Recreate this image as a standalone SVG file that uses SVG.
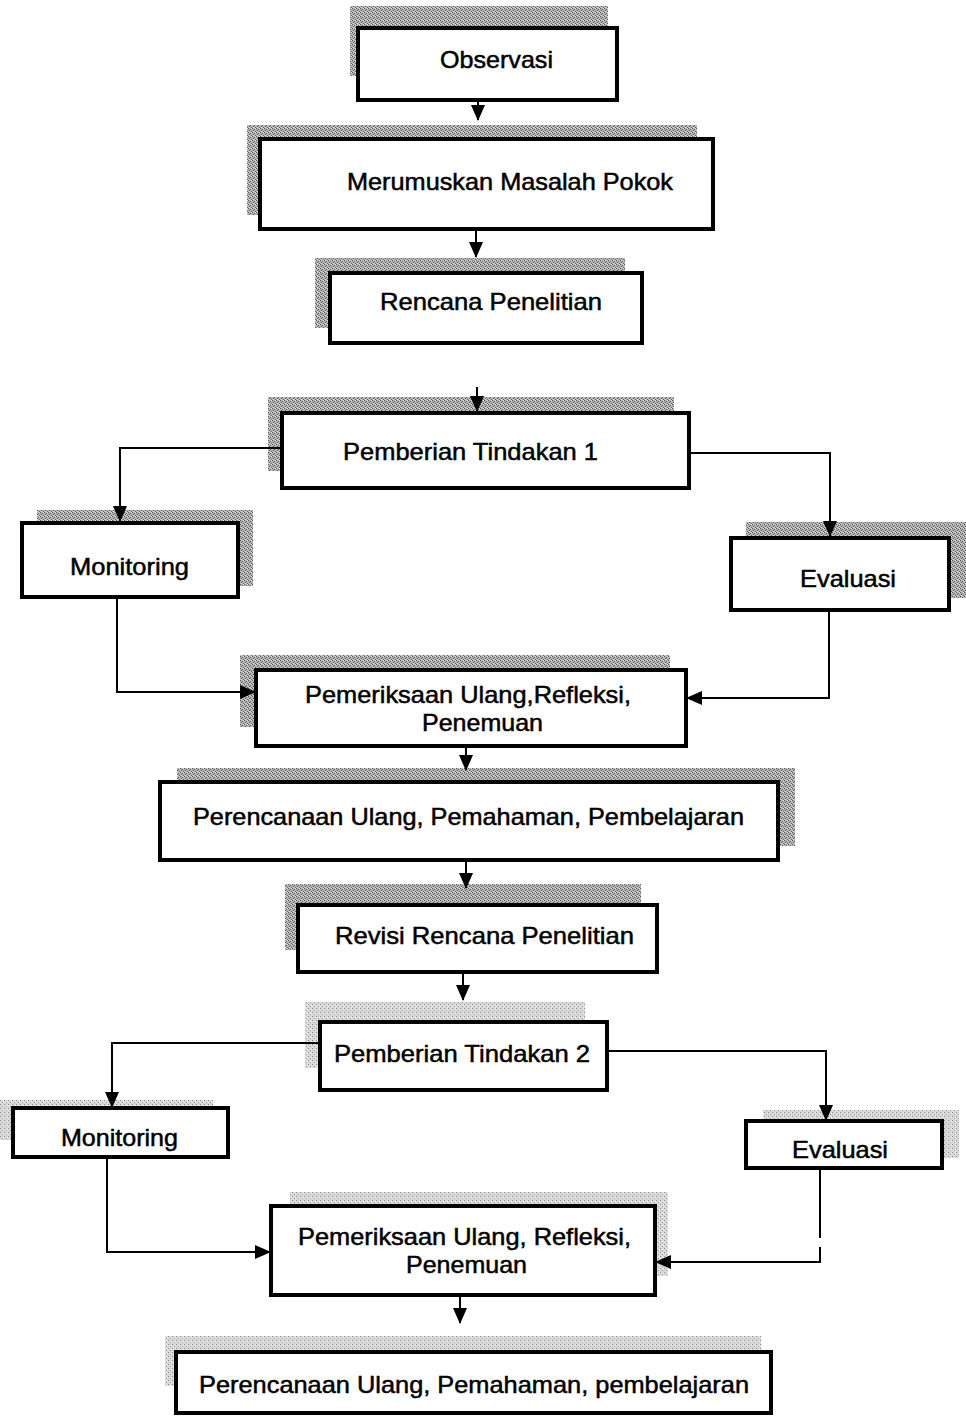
<svg xmlns="http://www.w3.org/2000/svg" width="966" height="1422" viewBox="0 0 966 1422">
<defs>
<style>
.box{fill:#fff;stroke:#000;stroke-width:4}
.sh{fill:url(#dith)}
.shl{fill:url(#dithl)}
.t{font-family:"Liberation Sans",Arial,sans-serif;font-size:24px;fill:#000;stroke:#000;stroke-width:0.5}
.c{fill:none;stroke:#000;stroke-width:2}
</style>
<pattern id="dith" patternUnits="userSpaceOnUse" width="4" height="4">
<rect width="4" height="4" fill="#b4b4b4"/>
<rect x="0" y="0" width="1" height="1" fill="#555"/>
<rect x="2" y="1" width="1" height="1" fill="#666"/>
<rect x="1" y="2" width="1" height="1" fill="#555"/>
<rect x="3" y="3" width="1" height="1" fill="#666"/>
<rect x="3" y="0" width="1" height="1" fill="#e0e0e0"/>
<rect x="1" y="3" width="1" height="1" fill="#e0e0e0"/>
</pattern>
<pattern id="dithl" patternUnits="userSpaceOnUse" width="4" height="4">
<rect width="4" height="4" fill="#dadada"/>
<rect x="0" y="0" width="1" height="1" fill="#888"/>
<rect x="2" y="2" width="1" height="1" fill="#999"/>
<rect x="3" y="1" width="1" height="1" fill="#f4f4f4"/>
</pattern>
<marker id="ah" markerUnits="userSpaceOnUse" markerWidth="16" markerHeight="16" viewBox="0 0 16 16" refX="15" refY="8" orient="auto">
<path d="M0,1 L16,8 L0,15 Z" fill="#000"/>
</marker>
</defs>
<rect width="966" height="1422" fill="#fff"/>

<g id="n1"><rect class="sh" x="350" y="6" width="258" height="70"/><rect class="box" x="358" y="28" width="259" height="72"/><text class="t" x="440" y="68" textLength="113" lengthAdjust="spacingAndGlyphs">Observasi</text></g>
<g id="n2"><rect class="sh" x="247" y="125" width="450" height="90"/><rect class="box" x="260" y="139" width="453" height="90"/><text class="t" x="347" y="190" textLength="326" lengthAdjust="spacingAndGlyphs">Merumuskan Masalah Pokok</text></g>
<g id="n3"><rect class="sh" x="315" y="258" width="310" height="70"/><rect class="box" x="330" y="273" width="312" height="70"/><text class="t" x="380" y="310" textLength="222" lengthAdjust="spacingAndGlyphs">Rencana Penelitian</text></g>
<g id="n4"><rect class="sh" x="268" y="397" width="406" height="74"/><rect class="box" x="282" y="413" width="407" height="75"/><text class="t" x="343" y="460" textLength="255" lengthAdjust="spacingAndGlyphs">Pemberian Tindakan 1</text></g>
<g id="n5"><rect class="sh" x="37" y="510" width="216" height="76"/><rect class="box" x="22" y="523" width="216" height="74"/><text class="t" x="70" y="575" textLength="119" lengthAdjust="spacingAndGlyphs">Monitoring</text></g>
<g id="n6"><rect class="sh" x="746" y="522" width="220" height="76"/><rect class="box" x="731" y="538" width="218" height="72"/><text class="t" x="800" y="587" textLength="96" lengthAdjust="spacingAndGlyphs">Evaluasi</text></g>
<g id="n7"><rect class="sh" x="240" y="655" width="430" height="72"/><rect class="box" x="256" y="670" width="430" height="76"/><text class="t" x="305" y="703" textLength="326" lengthAdjust="spacingAndGlyphs">Pemeriksaan Ulang,Refleksi,</text><text class="t" x="422" y="731" textLength="121" lengthAdjust="spacingAndGlyphs">Penemuan</text></g>
<g id="n8"><rect class="sh" x="177" y="768" width="618" height="78"/><rect class="box" x="160" y="782" width="618" height="78"/><text class="t" x="193" y="825" textLength="551" lengthAdjust="spacingAndGlyphs">Perencanaan Ulang, Pemahaman, Pembelajaran</text></g>
<g id="n9"><rect class="sh" x="285" y="884" width="356" height="66"/><rect class="box" x="298" y="905" width="359" height="67"/><text class="t" x="335" y="944" textLength="299" lengthAdjust="spacingAndGlyphs">Revisi Rencana Penelitian</text></g>
<g id="n10"><rect class="shl" x="305" y="1002" width="280" height="66"/><rect class="box" x="320" y="1022" width="287" height="68"/><text class="t" x="334" y="1062" textLength="256" lengthAdjust="spacingAndGlyphs">Pemberian Tindakan 2</text></g>
<g id="n11"><rect class="shl" x="0" y="1100" width="213" height="40"/><rect class="box" x="13" y="1108" width="215" height="49"/><text class="t" x="61" y="1146" textLength="117" lengthAdjust="spacingAndGlyphs">Monitoring</text></g>
<g id="n12"><rect class="shl" x="763" y="1110" width="196" height="48"/><rect class="box" x="746" y="1121" width="196" height="47"/><text class="t" x="792" y="1158" textLength="96" lengthAdjust="spacingAndGlyphs">Evaluasi</text></g>
<g id="n13"><rect class="shl" x="290" y="1192" width="378" height="84"/><rect class="box" x="271" y="1206" width="384" height="89"/><text class="t" x="298" y="1245" textLength="333" lengthAdjust="spacingAndGlyphs">Pemeriksaan Ulang, Refleksi,</text><text class="t" x="406" y="1273" textLength="121" lengthAdjust="spacingAndGlyphs">Penemuan</text></g>
<g id="n14"><rect class="shl" x="165" y="1336" width="596" height="50"/><rect class="box" x="176" y="1352" width="595" height="61"/><text class="t" x="199" y="1393" textLength="550" lengthAdjust="spacingAndGlyphs">Perencanaan Ulang, Pemahaman, pembelajaran</text></g>

<g id="connectors">
<path class="c" d="M478,100 V120" marker-end="url(#ah)"/>
<path class="c" d="M476,229 V257" marker-end="url(#ah)"/>
<path class="c" d="M477,387 V411" marker-end="url(#ah)"/>
<path class="c" d="M282,448 H120 V521" marker-end="url(#ah)"/>
<path class="c" d="M689,453 H830 V536" marker-end="url(#ah)"/>
<path class="c" d="M117,597 V692 H255" marker-end="url(#ah)"/>
<path class="c" d="M829,610 V698 H687" marker-end="url(#ah)"/>
<path class="c" d="M466,746 V770" marker-end="url(#ah)"/>
<path class="c" d="M466,860 V888" marker-end="url(#ah)"/>
<path class="c" d="M463,972 V1000" marker-end="url(#ah)"/>
<path class="c" d="M320,1043 H112 V1107" marker-end="url(#ah)"/>
<path class="c" d="M607,1051 H826 V1120" marker-end="url(#ah)"/>
<path class="c" d="M107,1157 V1252 H270" marker-end="url(#ah)"/>
<path class="c" d="M820,1168 V1238"/>
<path class="c" d="M820,1247 V1262 H656" marker-end="url(#ah)"/>
<path class="c" d="M460,1295 V1323" marker-end="url(#ah)"/>
</g>
</svg>
